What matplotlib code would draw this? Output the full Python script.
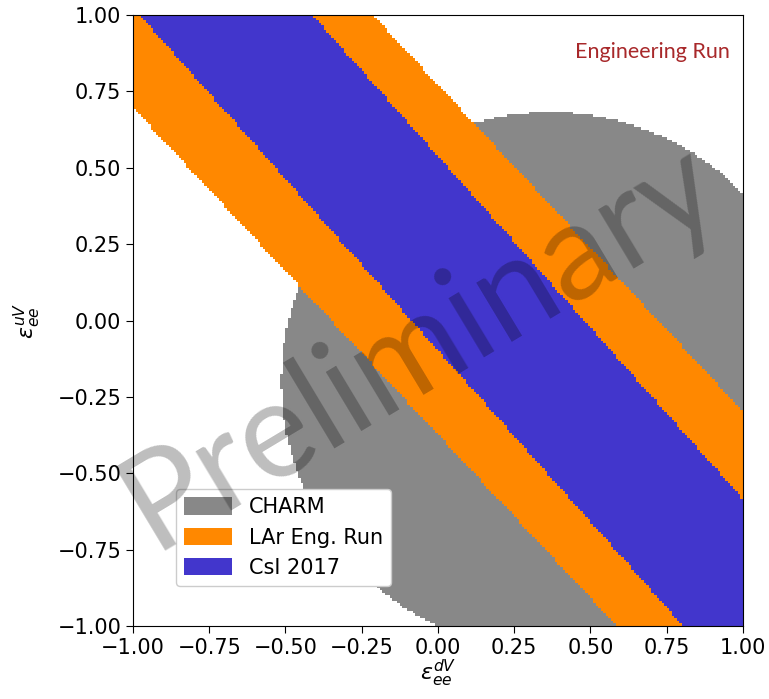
import numpy as np
import matplotlib
matplotlib.use("Agg")
import matplotlib.pyplot as plt
from matplotlib.colors import ListedColormap
from matplotlib.patches import Patch

# allowed regions in the (eps_ee^dV, eps_ee^uV) plane
# CHARM: disk
charm_center = [0.37, -0.2]
charm_radius = 0.885

# LAr (Z=18, N=22): two bands in eps_uV + (62/58) eps_dV
lar_slope = 62 / 58
lar_bands = [(-0.375, -0.015), (0.422, 0.775)]

# CsI (Z=55, N=78): one band in eps_uV + (211/188) eps_dV
csi_slope = 211 / 188
csi_band = (-0.098, 0.540)

labels = ['CHARM', 'LAr Eng. Run', 'CsI 2017']
colors = ['#888888', '#ff8800', '#4236cc']
ticks = np.arange(-1.0, 1.01, 0.25)

# scan grid
n = 240
x = np.linspace(-1, 1, n)
y = np.linspace(-1, 1, n)
X, Y = np.meshgrid(x, y)

charm = (X - charm_center[0])**2 + (Y - charm_center[1])**2 <= charm_radius**2
s_lar = Y + lar_slope * X
lar = np.zeros_like(charm)
for lo, hi in lar_bands:
    lar |= (s_lar >= lo) & (s_lar <= hi)
s_csi = Y + csi_slope * X
csi = (s_csi >= csi_band[0]) & (s_csi <= csi_band[1])

img = np.zeros(X.shape)
img[charm] = 1
img[lar] = 2
img[csi] = 3
img = np.ma.masked_equal(img, 0)

fig = plt.figure(figsize=(7.69, 6.99), dpi=100)
ax = fig.add_axes([0.173, 0.1044, 0.793, 0.874])
ax.imshow(img, cmap=ListedColormap(colors), vmin=0.5, vmax=3.5, origin='lower',
          extent=[-1, 1, -1, 1], interpolation='nearest', aspect='auto')

ax.set_xlim(-1, 1)
ax.set_ylim(-1, 1)
ax.set_xticks(ticks)
ax.set_yticks(ticks)
ax.tick_params(labelsize=15, length=5)
ax.set_xlabel(r'$\varepsilon_{ee}^{dV}$', fontsize=16, labelpad=0)
ax.set_ylabel(r'$\varepsilon_{ee}^{uV}$', fontsize=16, labelpad=10)

handles = [Patch(facecolor=c, label=l) for c, l in zip(colors, labels)]
ax.legend(handles=handles, loc='lower left', bbox_to_anchor=(0.07, 0.065),
          borderaxespad=0, fontsize=15, handlelength=2.3, handleheight=0.9,
          framealpha=1.0)

ax.text(0.979, 0.939, 'Engineering Run', transform=ax.transAxes, ha='right',
        va='center', fontsize=15.5, color='#a8282a', family='Lato')

fig.text(0.546, 0.506, 'Preliminary', rotation=31, ha='center', va='center',
         fontsize=97, color='black', alpha=0.26, family='Lato')

fig.savefig('out.png', dpi=100)
